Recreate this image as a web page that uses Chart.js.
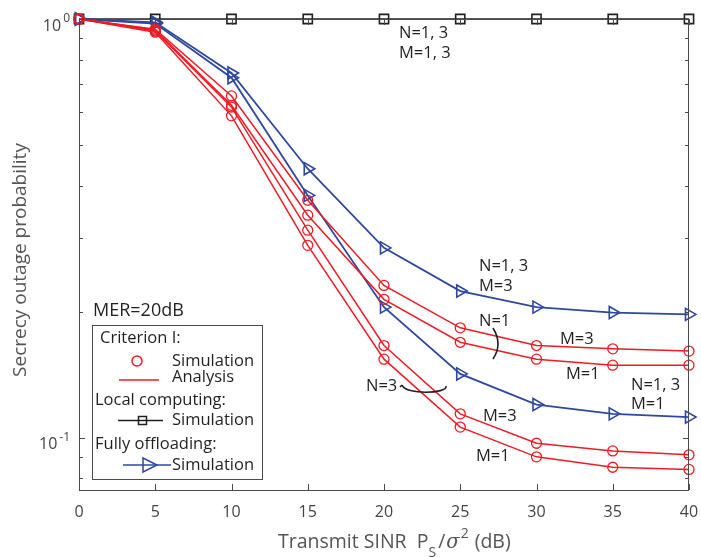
<!DOCTYPE html>
<html>
<head>
<meta charset="utf-8">
<script src="https://cdn.jsdelivr.net/npm/chart.js@4.4.1/dist/chart.umd.min.js"></script>
<style>
  html, body { margin: 0; padding: 0; background: #fff; }
  #wrap { width: 701px; height: 557px; }
</style>
</head>
<body>
<div id="wrap"><canvas id="outageChart" width="701" height="557"></canvas></div>
<script>
// SINR points (dB)
var sinrDb = [0, 5, 10, 15, 20, 25, 30, 35, 40];

// local computing, N=1,3 M=1,3
var localSim = [1, 1, 1, 1, 1, 1, 1, 1, 1];

// fully offloading
var offloadM3 = [1, 0.982, 0.743, 0.439, 0.284, 0.224, 0.205, 0.199, 0.197];
var offloadM1 = [1, 0.975, 0.724, 0.379, 0.205, 0.142, 0.120, 0.114, 0.112];

// criterion I
var critN1M3 = [1, 0.946, 0.655, 0.369, 0.231, 0.183, 0.166, 0.163, 0.161];
var critN1M1 = [1, 0.941, 0.622, 0.340, 0.214, 0.169, 0.154, 0.149, 0.149];
var critN3M3 = [1, 0.936, 0.616, 0.313, 0.166, 0.114, 0.097, 0.093, 0.091];
var critN3M1 = [1, 0.930, 0.587, 0.288, 0.154, 0.106, 0.090, 0.085, 0.084];

var xTicks = [0, 5, 10, 15, 20, 25, 30, 35, 40];
var yMajor = [0.1, 1];
var yMinor = [0.08, 0.09, 0.2, 0.3, 0.4, 0.5, 0.6, 0.7, 0.8, 0.9];

var RED = 'rgb(237,28,36)';
var BLUE = 'rgb(46,72,160)';
var BLACK = 'rgb(35,31,32)';
var AXIS = '#4a4a4a';
var FONT = '"Open Sans", "Noto Sans", sans-serif';

function pts(arr) {
  return arr.map(function (v, i) { return { x: sinrDb[i], y: v }; });
}

function analysisLine(arr) {
  return { data: pts(arr), borderColor: RED, borderWidth: 1.5, pointRadius: 0, showLine: true, fill: false };
}
function simCircles(arr) {
  return { data: pts(arr), borderColor: RED, backgroundColor: 'rgba(0,0,0,0)', borderWidth: 1.3,
    pointStyle: 'circle', pointRadius: 5, showLine: false };
}
function offloadLine(arr) {
  return { data: pts(arr), borderColor: BLUE, backgroundColor: 'rgba(0,0,0,0)', borderWidth: 1.8,
    pointStyle: 'triangle', pointRotation: 90, pointRadius: 7, pointBorderWidth: 1.6, showLine: true, fill: false };
}

// axes box, inward ticks, tick labels, titles, legend and notes
var decorPlugin = {
  id: 'decor',
  afterDraw: function (chart) {
    var ctx = chart.ctx;
    var xs = chart.scales.x, ys = chart.scales.y;
    var a = chart.chartArea;
    ctx.save();

    // box
    ctx.strokeStyle = AXIS;
    ctx.lineWidth = 1;
    ctx.strokeRect(a.left + 0.5, a.top + 0.5, a.right - a.left - 1, a.bottom - a.top);

    // ticks pointing inward
    ctx.beginPath();
    xTicks.forEach(function (t) {
      var px = Math.round(xs.getPixelForValue(t)) + 0.5;
      ctx.moveTo(px, a.bottom); ctx.lineTo(px, a.bottom - 6);
      ctx.moveTo(px, a.top); ctx.lineTo(px, a.top + 6);
    });
    yMajor.forEach(function (t) {
      var py = Math.round(ys.getPixelForValue(t)) + 0.5;
      ctx.moveTo(a.left, py); ctx.lineTo(a.left + 6, py);
      ctx.moveTo(a.right, py); ctx.lineTo(a.right - 6, py);
    });
    yMinor.forEach(function (t) {
      var py = Math.round(ys.getPixelForValue(t)) + 0.5;
      ctx.moveTo(a.left, py); ctx.lineTo(a.left + 4, py);
      ctx.moveTo(a.right, py); ctx.lineTo(a.right - 4, py);
    });
    ctx.stroke();

    // x tick labels
    ctx.fillStyle = '#444';
    ctx.font = '16px ' + FONT;
    ctx.textAlign = 'center';
    ctx.textBaseline = 'middle';
    xTicks.forEach(function (t) {
      ctx.fillText(String(t), xs.getPixelForValue(t), 512);
    });

    // y tick labels 10^0, 10^-1
    yMajor.forEach(function (t) {
      var py = ys.getPixelForValue(t);
      var exp = String(Math.round(Math.log10(t)));
      ctx.textBaseline = 'middle';
      ctx.font = '12px ' + FONT;
      var expW = ctx.measureText(exp).width;
      ctx.textAlign = 'right';
      ctx.fillText(exp, a.left - 9, py);
      ctx.font = '16px ' + FONT;
      ctx.fillText('10', a.left - 11 - expW, py + 7);
    });

    // y title
    ctx.save();
    ctx.translate(21, 260);
    ctx.rotate(-Math.PI / 2);
    ctx.font = '19px ' + FONT;
    ctx.fillStyle = '#555';
    ctx.textAlign = 'center';
    ctx.textBaseline = 'middle';
    ctx.fillText('Secrecy outage probability', 0, 0);
    ctx.restore();

    // x title with sub/superscripts
    ctx.fillStyle = '#555';
    ctx.textBaseline = 'alphabetic';
    ctx.textAlign = 'left';
    var xt = 278, base = 548;
    ctx.font = '19.5px ' + FONT;
    ctx.fillText('Transmit SINR  P', xt, base);
    xt += ctx.measureText('Transmit SINR  P').width;
    ctx.font = '14px ' + FONT;
    ctx.fillText('S', xt, base + 9);
    xt += ctx.measureText('S').width + 2;
    ctx.font = '19.5px ' + FONT;
    ctx.fillText('/', xt, base);
    xt += ctx.measureText('/').width + 1;
    ctx.font = 'italic 19.5px "DejaVu Serif", serif';
    ctx.fillText('\u03C3', xt, base);
    xt += ctx.measureText('\u03C3').width + 1;
    ctx.font = '14px ' + FONT;
    ctx.fillText('2', xt, base - 10);
    xt += ctx.measureText('2').width + 6;
    ctx.font = '19.5px ' + FONT;
    ctx.fillText('(dB)', xt, base);

    // notes
    ctx.fillStyle = BLACK;
    ctx.font = '16.5px ' + FONT;
    ctx.textAlign = 'left';
    ctx.textBaseline = 'middle';
    var notes = [
      ['N=1, 3', 399, 33], ['M=1, 3', 399, 53],
      ['N=1, 3', 479, 266], ['M=3', 479, 286],
      ['N=1', 479, 321],
      ['M=3', 560, 339], ['M=1', 566, 374],
      ['N=1, 3', 631, 385], ['M=1', 631, 404],
      ['N=3', 366, 386],
      ['M=3', 483, 416], ['M=1', 476, 456]
    ];
    notes.forEach(function (n) { ctx.fillText(n[0], n[1], n[2]); });
    ctx.font = '18px ' + FONT;
    ctx.fillText('MER=20dB', 93, 311);

    // bracket for N=1
    ctx.strokeStyle = BLACK;
    ctx.lineWidth = 1.6;
    ctx.beginPath();
    ctx.moveTo(493, 328);
    ctx.quadraticCurveTo(503, 344, 493, 359);
    ctx.stroke();
    // loop for N=3
    ctx.beginPath();
    ctx.moveTo(402, 385);
    ctx.bezierCurveTo(405, 395, 448, 394, 446, 386);
    ctx.moveTo(402, 385);
    ctx.lineTo(400, 387);
    ctx.stroke();

    // legend
    ctx.strokeStyle = AXIS;
    ctx.lineWidth = 1;
    ctx.fillStyle = '#fff';
    ctx.fillRect(92, 325, 170, 154);
    ctx.strokeRect(92.5, 325.5, 170, 154);
    ctx.fillStyle = BLACK;
    ctx.font = '16.5px ' + FONT;
    ctx.textBaseline = 'middle';
    ctx.fillText('Criterion I:', 100, 338);
    ctx.fillText('Simulation', 172, 361);
    ctx.fillText('Analysis', 172, 377);
    ctx.fillText('Local computing:', 95, 400);
    ctx.fillText('Simulation', 172, 420);
    ctx.fillText('Fully offloading:', 95, 444);
    ctx.fillText('Simulation', 172, 465);

    ctx.lineWidth = 1.5;
    ctx.strokeStyle = RED;
    ctx.beginPath();
    ctx.arc(137, 361, 5, 0, Math.PI * 2);
    ctx.stroke();
    ctx.beginPath();
    ctx.moveTo(119, 380); ctx.lineTo(159, 380);
    ctx.stroke();

    ctx.strokeStyle = BLACK;
    ctx.beginPath();
    ctx.moveTo(118, 420.5); ctx.lineTo(163, 420.5);
    ctx.stroke();
    ctx.strokeRect(138.5, 416.5, 8, 8);

    ctx.strokeStyle = BLUE;
    ctx.beginPath();
    ctx.moveTo(123, 465); ctx.lineTo(171, 465);
    ctx.stroke();
    ctx.beginPath();
    ctx.moveTo(143, 458); ctx.lineTo(157, 465); ctx.lineTo(143, 472); ctx.closePath();
    ctx.stroke();

    ctx.restore();
  }
};

var ctx = document.getElementById('outageChart').getContext('2d');
var outageChart = new Chart(ctx, {
  type: 'scatter',
  data: {
    datasets: [
      analysisLine(critN1M3), analysisLine(critN1M1), analysisLine(critN3M3), analysisLine(critN3M1),
      simCircles(critN1M3), simCircles(critN1M1), simCircles(critN3M3), simCircles(critN3M1),
      offloadLine(offloadM3), offloadLine(offloadM1),
      { data: pts(localSim), borderColor: BLACK, backgroundColor: 'rgba(0,0,0,0)', borderWidth: 1.5,
        pointStyle: 'rect', pointRadius: 6.5, pointBorderWidth: 1.6, showLine: true, fill: false }
    ]
  },
  options: {
    responsive: false,
    animation: false,
    clip: false,
    layout: { padding: { left: 79, right: 12, top: 19, bottom: 67 } },
    plugins: { legend: { display: false }, tooltip: { enabled: false } },
    elements: { line: { tension: 0 } },
    scales: {
      x: { type: 'linear', min: 0, max: 40, display: false },
      y: { type: 'logarithmic', min: 0.075, max: 1, display: false }
    }
  },
  plugins: [decorPlugin]
});
</script>
</body>
</html>
